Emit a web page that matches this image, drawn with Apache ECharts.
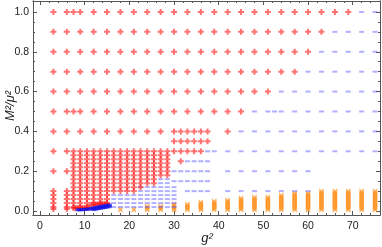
<!DOCTYPE html>
<html><head><meta charset="utf-8">
<script src="https://cdn.jsdelivr.net/npm/echarts@6/dist/echarts.min.js"></script>
<style>html,body{margin:0;padding:0;background:#fff}#c{width:382px;height:247px}</style>
</head><body><div id="c"></div>
<script>
// ---- data ----
const xTicks = [0, 10, 20, 30, 40, 50, 60, 70];
const yTicks = [0.0, 0.2, 0.4, 0.6, 0.8, 1.0];
const xMinor = [2, 4, 6, 8, 12, 14, 16, 18, 22, 24, 26, 28, 32, 34, 36, 38, 42, 44, 46, 48, 52, 54, 56, 58, 62, 64, 66, 68, 72, 74];
const yMinor = [0.05, 0.1, 0.15, 0.25, 0.3, 0.35, 0.45, 0.5, 0.55, 0.65, 0.7, 0.75, 0.85, 0.9, 0.95];

// red "+" points, by row: [y, xs]
const redRows = [
  [1.0, [3, 6, 7.5, 9, 12, 15, 18, 21, 24, 27, 30, 33, 36, 39, 42, 45, 48, 51, 54, 57, 60, 63, 66, 69]],
  [0.9, [3, 6, 9, 12, 15, 18, 21, 24, 27, 30, 33, 36, 39, 42, 45, 48, 51, 54, 57, 60, 63]],
  [0.8, [3, 6, 9, 12, 15, 18, 21, 24, 27, 30, 33, 36, 39, 42, 45, 48, 51, 54, 57, 60]],
  [0.7, [3, 6, 9, 12, 15, 18, 21, 24, 27, 30, 33, 36, 39, 42, 45, 48, 51, 54, 57]],
  [0.6, [3, 6, 9, 12, 15, 18, 21, 24, 27, 30, 33, 36, 39, 42, 45, 48, 51]],
  [0.5, [3, 6, 7.5, 9, 12, 15, 18, 21, 24, 27, 30, 33, 36, 39, 42, 45]],
  [0.4, [3, 6, 9, 12, 15, 18, 21, 24, 27, 30, 31.5, 33, 34.5, 36, 37.5, 42]],
  [0.35, [30, 31.5, 33, 34.5, 36, 37.5]],
  [0.3, [3, 6, 30, 31.5, 33, 34.5, 36]],
  [0.25, [31.5]],
  [0.2, [3, 6]],
  [0.1, [3, 6]], [0.08, [3, 6]], [0.06, [3, 6]], [0.04, [3, 6]], [0.02, [3, 6]], [0.01, [3, 6]]
];
// dense red columns (fine scan in y)
const denseX = [7.5, 9, 10.5, 12, 13.5, 15, 16.5, 18, 19.5, 21, 22.5, 24, 25.5, 27, 28.5];
const denseBottom = [0.02, 0.02, 0.02, 0.04, 0.04, 0.04, 0.1, 0.1, 0.1, 0.1, 0.12, 0.14, 0.14, 0.18, 0.18];
const denseY = [0.30, 0.28, 0.26, 0.24, 0.22, 0.20, 0.18, 0.16, 0.14, 0.12, 0.10, 0.08, 0.06, 0.04, 0.02];
// red low band
const redBandX = [7.5, 8, 8.5, 9, 9.5, 10, 10.5, 11, 11.5, 12, 12.5, 13, 13.5, 14, 14.5, 15];
const redBandY = [0.015, 0.015, 0.015, 0.015, 0.015, 0.016, 0.017, 0.018, 0.03, 0.032, 0.033, 0.034, 0.035, 0.036, 0.037, 0.038];

// blue "-" points, by row
const blueRows = [
  [1.0, [72, 75]],
  [0.9, [66, 69, 72, 75]],
  [0.8, [63, 66, 69, 72, 75]],
  [0.7, [60, 63, 66, 69, 72, 75]],
  [0.6, [54, 57, 60, 63, 66, 69, 72, 75]],
  [0.5, [48, 51, 52.5, 54, 57, 60, 63, 66, 69, 72, 75]],
  [0.4, [45, 48, 51, 54, 57, 60, 63, 66, 69, 72, 75]],
  [0.3, [37.5, 39, 42, 45, 48, 51, 54, 57, 60, 63, 66, 69, 72, 75]],
  [0.25, [33, 34.5, 36, 37.5]],
  [0.2, [30, 31.5, 33, 34.5, 36, 37.5, 42, 45, 48, 51, 54, 57, 60]],
  [0.15, [30, 31.5, 33, 34.5, 36, 37.5]],
  [0.16, [27, 28.5]],
  [0.14, [27, 28.5]],
  [0.12, [22.5, 24, 25.5, 27, 28.5, 30]],
  [0.1, [22.5, 24, 25.5, 27, 28.5, 30, 33, 34.5, 36, 37.5, 42, 45, 48, 51, 54, 57, 60]],
  [0.08, [16.5, 18, 19.5, 21, 22.5, 24, 25.5, 27, 28.5, 30]],
  [0.06, [16.5, 18, 19.5, 21, 22.5, 24, 25.5, 27, 28.5, 30]],
  [0.04, [16.5, 18, 19.5, 21, 22.5, 24, 25.5, 27, 28.5, 30]],
  [0.02, [16.5, 18, 19.5, 21, 22.5, 24, 25.5, 27, 28.5, 30]]
];
// dark blue low band (dense points)
const blueBandX = [8.5, 9, 9.5, 10, 10.5, 11, 11.5, 12, 12.5, 13, 13.5, 14, 14.5, 15, 15.5, 12, 12.5, 13, 13.5, 14, 14.5, 15, 15.5];
const blueBandY = [0.006, 0.006, 0.007, 0.008, 0.009, 0.01, 0.012, 0.016, 0.018, 0.02, 0.022, 0.024, 0.026, 0.028, 0.03, 0.008, 0.01, 0.012, 0.014, 0.016, 0.018, 0.02, 0.022];

// orange "x" columns: x and top of the stack
const orangeX = [18, 21, 24, 27, 30, 33, 36, 39, 42, 45, 48, 51, 54, 57, 60, 63, 66, 69, 72, 75];
const orangeTop = [0.01, 0.01, 0.025, 0.025, 0.035, 0.035, 0.045, 0.05, 0.055, 0.065, 0.07, 0.07, 0.08, 0.09, 0.09, 0.1, 0.1, 0.1, 0.1, 0.1];
const orangeY = [0.005, 0.01, 0.015, 0.02, 0.025, 0.03, 0.035, 0.04, 0.045, 0.05, 0.055, 0.06, 0.065, 0.07, 0.075, 0.08, 0.085, 0.09, 0.095, 0.1];

// ---- build point lists ----
const redPts = [];
redRows.forEach(([y, xs]) => xs.forEach(x => redPts.push([x, y])));
denseX.forEach((x, i) => denseY.forEach(y => { if (y >= denseBottom[i] - 1e-9) redPts.push([x, y]); }));
redBandX.forEach((x, i) => redPts.push([x, redBandY[i]]));
const bluePts = [];
blueRows.forEach(([y, xs]) => xs.forEach(x => bluePts.push([x, y])));
const blueBand = blueBandX.map((x, i) => [x, blueBandY[i]]);
const orangePts = [];
orangeX.forEach((x, i) => orangeY.forEach(y => { if (y <= orangeTop[i] + 1e-9) orangePts.push([x, y]); }));

const PLUS = 'path://M2,0H4V2H6V4H4V6H2V4H0V2H2Z';
const CROSS = 'path://M0,1L1,0L4,3L7,0L8,1L5,4L8,7L7,8L4,5L1,8L0,7L3,4Z';

const XMIN = -1.57, XMAX = 76.1, YMIN = -0.02, YMAX = 1.055;
const axisCol = '#555';
function xAx(pos, vals, len, labels) {
  return {
    type: 'value', position: pos, min: XMIN, max: XMAX,
    axisLine: { show: true, onZero: false, lineStyle: { color: axisCol, width: 1 } },
    axisTick: { show: true, inside: true, length: len, customValues: vals, lineStyle: { color: axisCol } },
    axisLabel: labels ? { show: true, customValues: xTicks, color: '#222', fontSize: 10.5, fontFamily: 'Liberation Sans, Arial', margin: 6 } : { show: false },
    splitLine: { show: false }
  };
}
function yAx(pos, vals, len, labels) {
  return {
    type: 'value', position: pos, min: YMIN, max: YMAX,
    axisLine: { show: true, onZero: false, lineStyle: { color: axisCol, width: 1 } },
    axisTick: { show: true, inside: true, length: len, customValues: vals, lineStyle: { color: axisCol } },
    axisLabel: labels ? { show: true, customValues: yTicks, color: '#222', fontSize: 10.5, fontFamily: 'Liberation Sans, Arial', margin: 4, formatter: v => v.toFixed(1) } : { show: false },
    splitLine: { show: false }
  };
}

const chart = echarts.init(document.getElementById('c'), null, { renderer: 'canvas' });
chart.setOption({
  animation: false,
  backgroundColor: '#fff',
  grid: { left: 33, top: 1, right: 2, bottom: 32, containLabel: false },
  xAxis: [xAx('bottom', xTicks, 4, true), xAx('bottom', xMinor, 2, false), xAx('top', xTicks, 4, false), xAx('top', xMinor, 2, false)],
  yAxis: [yAx('left', yTicks, 4, true), yAx('left', yMinor, 2, false), yAx('right', yTicks, 4, false), yAx('right', yMinor, 2, false)],
  graphic: [
    { type: 'text', x: 207, y: 238, style: { text: 'g²', font: 'italic 13px Liberation Sans', fill: '#222', align: 'center', verticalAlign: 'middle' } },
    { type: 'text', x: 10, y: 106, rotation: Math.PI / 2, style: { text: 'M²/μ²', font: 'italic 13px Liberation Sans', fill: '#222', align: 'center', verticalAlign: 'middle' } }
  ],
  series: [
    { type: 'scatter', data: orangePts, symbol: CROSS, symbolSize: 5, itemStyle: { color: 'rgba(255,140,20,0.85)' }, z: 2 },
    { type: 'scatter', data: bluePts, symbol: 'rect', symbolSize: [5, 2], itemStyle: { color: 'rgba(90,90,255,0.6)' }, z: 3 },
    { type: 'scatter', data: redPts, symbol: PLUS, symbolSize: 6, itemStyle: { color: 'rgba(255,20,20,0.75)' }, z: 4 },
    { type: 'scatter', data: blueBand, symbol: 'rect', symbolSize: [5, 3], itemStyle: { color: 'rgba(20,20,230,0.9)' }, z: 5 }
  ]
});
</script></body></html>
